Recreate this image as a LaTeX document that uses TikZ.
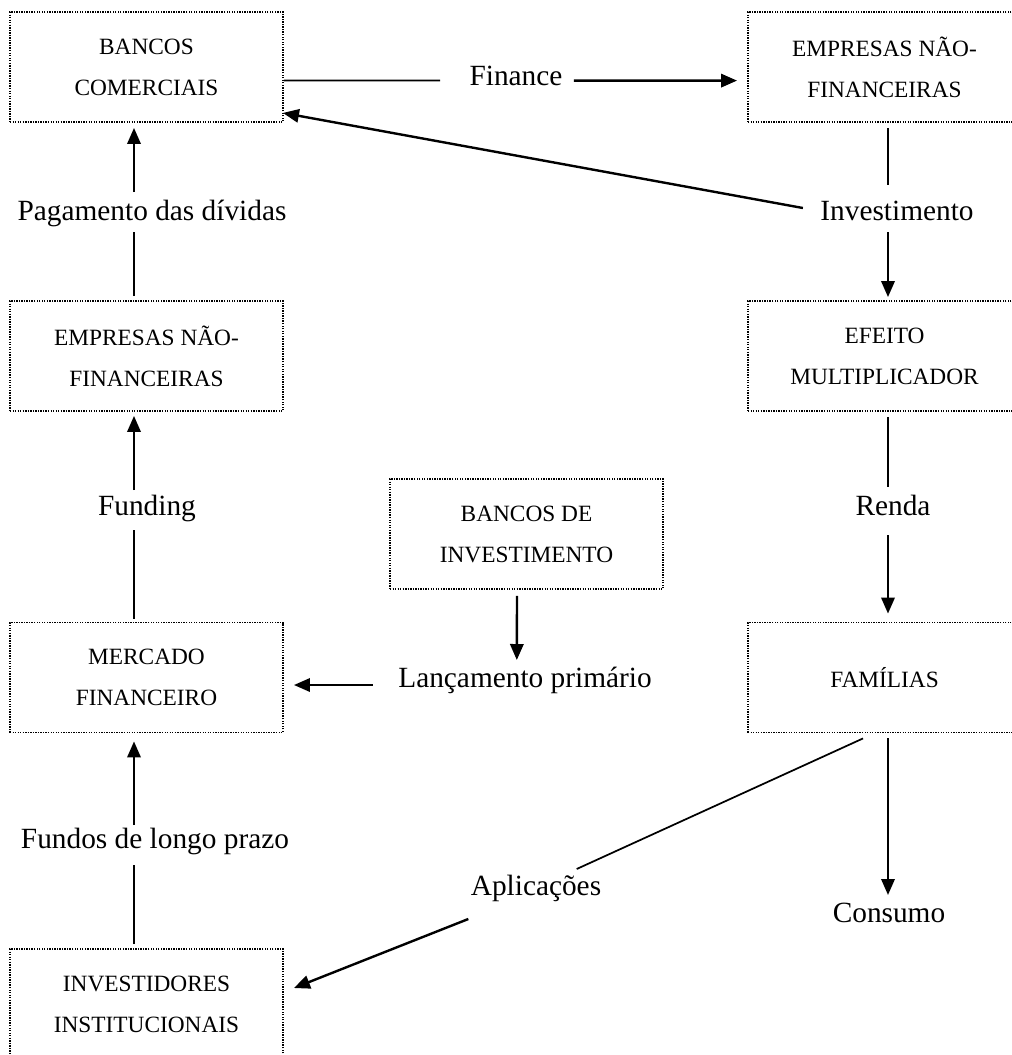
\documentclass[tikz,border=0pt]{standalone}
\usepackage{fontspec}
\setmainfont{Liberation Serif}
\usetikzlibrary{arrows.meta,calc}
\begin{document}
\begin{tikzpicture}[x=0.375pt,y=-0.375pt,
  box/.style={draw, line width=0.7pt, dash pattern=on 0.5pt off 0.45pt,
    minimum width=102.4pt, minimum height=41.25pt, inner sep=0pt, align=center,
    font=\fontsize{8.75}{15.4}\selectfont},
  lbl/.style={inner sep=0pt, anchor=base, font=\fontsize{11}{13}\selectfont},
  thinline/.style={line width=0.5pt},
  midline/.style={line width=0.65pt},
  arr/.style={line width=0.9pt, -{Triangle[length=6pt,width=5pt]}},
]
\useasboundingbox (0,0) rectangle (1012,1055);
\clip (0,0) rectangle (1012,1055);

% boxes
\node[box] (bc)  at (146.5,67)   {BANCOS\\COMERCIAIS};
\node[box] (en1) at (884.5,67)   {EMPRESAS NÃO-\\FINANCEIRAS};
\node[box] (en2) at (146.5,356)  {EMPRESAS NÃO-\\FINANCEIRAS};
\node[box] (ef)  at (884.5,356)  {EFEITO\\MULTIPLICADOR};
\node[box] (bi)  at (526.5,534)  {BANCOS DE\\INVESTIMENTO};
\node[box] (mf)  at (146.5,677.5){MERCADO\\FINANCEIRO};
\node[box] (fam) at (884.5,677.5){FAMÍLIAS};
\node[box] (inv) at (146.5,1004) {INVESTIDORES\\INSTITUCIONAIS};

% labels
\node[lbl] (fin)   at (516,85)  {Finance};
\node[lbl] (invt)  at (897,220) {Investimento};
\node[lbl] (pag)   at (152,220) {Pagamento das dívidas};
\node[lbl] (renda) at (893,515) {Renda};
\node[lbl] (fund)  at (147,515) {Funding};
\node[lbl] (lanc)  at (525,687) {Lançamento primário};
\node[lbl] (fundos) at (155,848) {Fundos de longo prazo};
\node[lbl] (apl)   at (536,895) {Aplicações};
\node[lbl] (cons)  at (889,922) {Consumo};

% top row
\draw[midline] ($(bc.east)+(0,13.6)$) -- ($(fin.base west)+(-29,-4.4)$);
\draw[arr] ($(fin.base east)+(11,-4.4)$) -- ($(en1.west)+(-10,13.6)$);
\draw[arr] ($(invt.base west)+(-17,-12)$) -- ($(bc.south east)+(-1,-10)$);

% right column
\draw[thinline] ($(en1.south)+(3.5,5)$) -- ($(invt.base)+(-9,-35)$);
\draw[arr] ($(invt.base)+(-9,12)$) -- ($(ef.north)+(3.5,-3)$);
\draw[thinline] ($(ef.south)+(3.5,5)$) -- ($(renda.base)+(-5,-28)$);
\draw[arr] ($(renda.base)+(-5,20)$) -- ($(fam.north)+(3.5,-8)$);
\draw[arr] ($(fam.south)+(3.5,5)$) -- ($(cons.base)+(-1,-27)$);
\draw[midline] ($(fam.south)+(-21.5,5)$) -- ($(apl.base east)+(-25,-26)$);
\draw[arr] ($(apl.base west)+(-2,24)$) -- ($(inv.east)+(10,-16)$);

% middle
\draw[arr] ($(bi.south)+(-9.5,6)$) -- ($(lanc.base west)+(119,-27)$);
\draw[arr] ($(lanc.base west)+(-25,-2)$) -- ($(mf.east)+(10,7.5)$);

% left column
\draw[thinline] ($(en2.north)+(-12.5,-4)$) -- ($(pag.base)+(-18,12)$);
\draw[arr] ($(pag.base)+(-18,-28)$) -- ($(bc.south)+(-12.5,5)$);
\draw[thinline] ($(mf.north)+(-12.5,-3)$) -- ($(fund.base)+(-13,15)$);
\draw[arr] ($(fund.base)+(-13,-25)$) -- ($(en2.south)+(-12.5,4)$);
\draw[thinline] ($(inv.north)+(-12.5,-4)$) -- ($(fundos.base)+(-21,17)$);
\draw[arr] ($(fundos.base)+(-21,-23)$) -- ($(mf.south)+(-12.5,8)$);
\end{tikzpicture}
\end{document}
